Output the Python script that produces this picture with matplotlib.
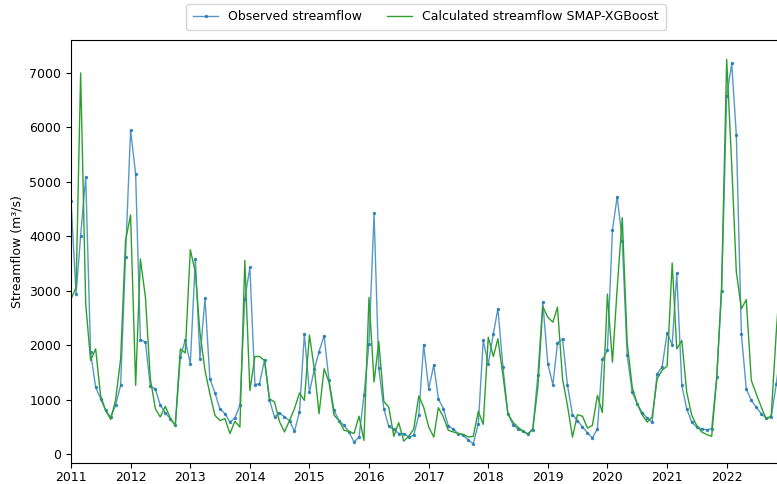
import numpy as np
import pandas as pd
import matplotlib
matplotlib.use("Agg")
import matplotlib.pyplot as plt
import matplotlib.dates as mdates

# monthly series, Jan 2011 .. Dec 2022 (m3/s)
obs_2011 = [4650, 2940, 4010, 5090, 1870, 1230, 1020, 805, 685, 900, 1265, 3630]
obs_2012 = [5950, 5140, 2105, 2060, 1245, 1200, 900, 760, 650, 530, 1780, 2100]
obs_2013 = [1660, 3585, 1750, 2865, 1385, 1130, 835, 745, 590, 665, 900, 2850]
obs_2014 = [3430, 1280, 1295, 1735, 1000, 685, 765, 685, 620, 420, 775, 2210]
obs_2015 = [1140, 1570, 1885, 2180, 1355, 805, 620, 530, 410, 225, 315, 1080]
obs_2016 = [2025, 4425, 1580, 835, 510, 460, 380, 380, 315, 350, 715, 2015]
obs_2017 = [1200, 1640, 1020, 835, 520, 460, 380, 350, 255, 195, 560, 2090]
obs_2018 = [1660, 2210, 2670, 1600, 745, 545, 470, 420, 380, 450, 1460, 2790]
obs_2019 = [1660, 1275, 2040, 2120, 1275, 725, 620, 500, 395, 300, 470, 1740]
obs_2020 = [1905, 4120, 4730, 3920, 1825, 1140, 930, 765, 665, 590, 1480, 1600]
obs_2021 = [2230, 2010, 3330, 1265, 835, 590, 500, 470, 450, 470, 1415, 3005]
obs_2022 = [6575, 7175, 5860, 2210, 1200, 990, 865, 745, 665, 685, 1295, 2000]

calc_2011 = [2850, 3065, 7000, 2760, 1720, 1935, 1080, 805, 640, 990, 1750, 3920]
calc_2012 = [4395, 1265, 3585, 2880, 1385, 835, 685, 880, 655, 530, 1935, 1860]
calc_2013 = [3755, 3340, 2240, 1540, 1110, 715, 620, 655, 380, 605, 500, 3555]
calc_2014 = [1170, 1795, 1795, 1720, 1020, 960, 605, 410, 620, 835, 1125, 990]
calc_2015 = [2190, 1540, 745, 1570, 1325, 715, 620, 440, 420, 380, 700, 255]
calc_2016 = [2880, 1325, 2070, 970, 865, 330, 580, 240, 335, 460, 1070, 865]
calc_2017 = [500, 315, 855, 685, 440, 410, 380, 365, 315, 330, 790, 550]
calc_2018 = [2150, 1795, 2120, 1445, 745, 590, 500, 425, 365, 470, 1235, 2710]
calc_2019 = [2515, 2425, 2700, 1385, 900, 315, 725, 700, 480, 530, 1080, 765]
calc_2020 = [2940, 1690, 3050, 4345, 2055, 1235, 930, 725, 590, 685, 1385, 1540]
calc_2021 = [1620, 3510, 1935, 2090, 1140, 715, 530, 410, 360, 330, 1400, 3100]
calc_2022 = [7250, 5300, 3350, 2670, 2840, 1355, 1110, 865, 640, 715, 2250, 3500]

observed = (obs_2011 + obs_2012 + obs_2013 + obs_2014 + obs_2015 + obs_2016 +
            obs_2017 + obs_2018 + obs_2019 + obs_2020 + obs_2021 + obs_2022)
calculated = (calc_2011 + calc_2012 + calc_2013 + calc_2014 + calc_2015 + calc_2016 +
              calc_2017 + calc_2018 + calc_2019 + calc_2020 + calc_2021 + calc_2022)

months = pd.date_range("2011-01-01", periods=len(observed), freq="MS")

plt.rcParams['font.size'] = 9

fig = plt.figure(figsize=(7.77, 4.84), dpi=100)
# axes run slightly past the right edge (the original is cropped there)
ax = fig.add_axes([0.0914, 0.0434, 0.914, 0.874])

ax.plot(months, observed, color='#1f77b4', lw=1.0, alpha=0.75,
        marker='.', ms=3, mec='#1f77b4', mfc='#1f77b4',
        label='Observed streamflow')
ax.plot(months, calculated, color='#2ca02c', lw=1.0,
        label='Calculated streamflow SMAP-XGBoost')

ax.set_xlim(months[0], months[-1])
ax.set_ylim(-160, 7605)
ax.set_yticks(np.arange(0, 7001, 1000))
ax.xaxis.set_major_locator(mdates.YearLocator())
ax.xaxis.set_major_formatter(mdates.DateFormatter('%Y'))
ax.tick_params(axis='x', pad=2)
ax.set_ylabel('Streamflow (m³/s)')

ax.legend(loc='lower center', bbox_to_anchor=(0.5, 1.008), ncol=2,
          frameon=True, fontsize=9, borderpad=0.55)

plt.savefig("out.png", dpi=100)
plt.close()
